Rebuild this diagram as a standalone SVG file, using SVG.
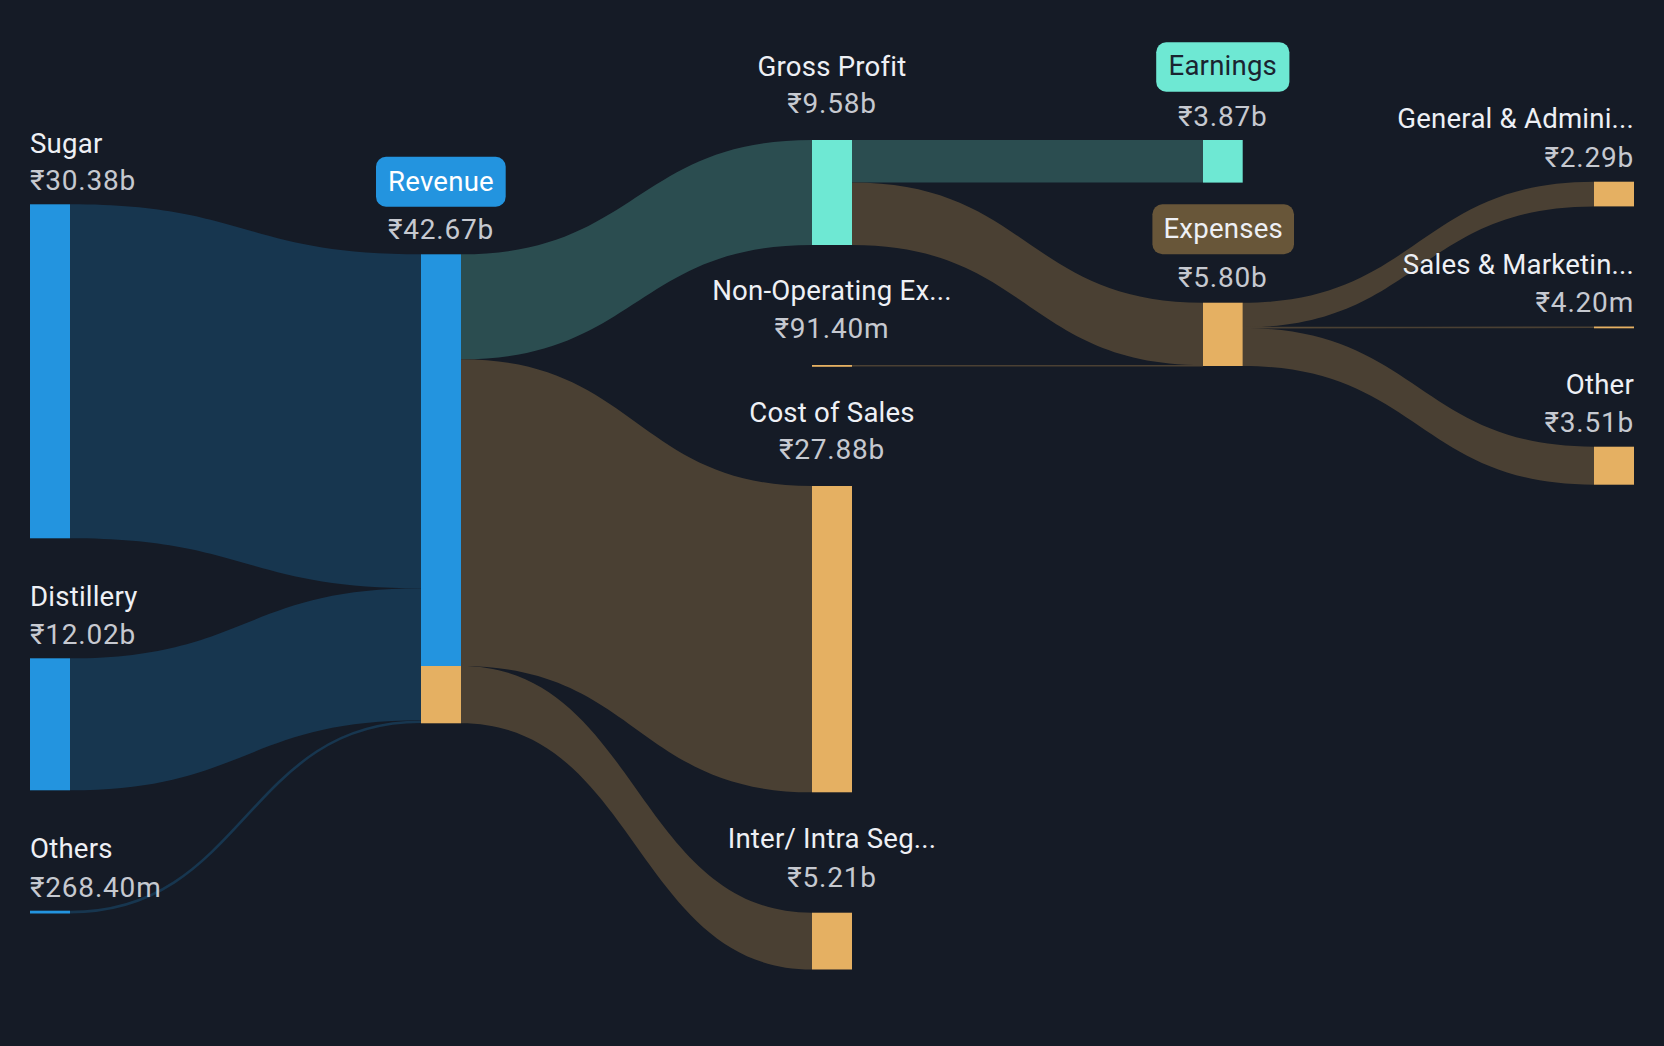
<svg xmlns="http://www.w3.org/2000/svg" width="1664" height="1046" viewBox="0 0 1664 1046">
<style>
.bg{fill:#151b26}
.t{font-family:Roboto,"Liberation Sans",sans-serif;font-size:27.6px;letter-spacing:0.2px;fill:#eef0f5}
.v{font-family:Roboto,"Liberation Sans",sans-serif;font-size:28px;letter-spacing:0.8px;fill:#c6c9d0}
.m{text-anchor:middle}
.e{text-anchor:end}
.blue{fill:#2394df}
.teal{fill:#6ee8d3}
.org{fill:#e5b062}
.lb{fill:#17364f}
.lt{fill:#2b4d50}
.lo{fill:#4a4033}
</style>
<rect class="bg" x="0" y="0" width="1664" height="1046"/>
<g id="links">
<path class="lb" d="M70,204.3 C245.5,204.3 245.5,254.3 421,254.3 L421,588.3 C245.5,588.3 245.5,538.3 70,538.3 Z"/>
<path class="lb" d="M70,658.3 C245.5,658.3 245.5,588.3 421,588.3 L421,720.3 C245.5,720.3 245.5,790.3 70,790.3 Z"/>
<path d="M70,912.1 C245.5,912.1 245.5,721.8 421,721.8" fill="none" stroke="#17364f" stroke-width="2.6"/>
<path class="lt" d="M461,254.3 C636.5,254.3 636.5,140 812,140 L812,245 C636.5,245 636.5,359.3 461,359.3 Z"/>
<path class="lo" d="M461,359.3 C636.5,359.3 636.5,486 812,486 L812,792.3 C636.5,792.3 636.5,666 461,666 Z"/>
<path class="lo" d="M461,666 C636.5,666 636.5,912.7 812,912.7 L812,969.5 C636.5,969.5 636.5,723.3 461,723.3 Z"/>
<path class="lt" d="M852,140 L1203,140 L1203,182.6 L852,182.6 Z"/>
<path class="lo" d="M852,182.6 C1027.5,182.6 1027.5,302.7 1203,302.7 L1203,365 C1027.5,365 1027.5,245 852,245 Z"/>
<path d="M852,365.8 L1203,365.8" fill="none" stroke="#4a4033" stroke-width="1.6"/>
<path class="lo" d="M1242.7,302.7 C1418.35,302.7 1418.35,181.7 1594,181.7 L1594,206.4 C1418.35,206.4 1418.35,327.4 1242.7,327.4 Z"/>
<path d="M1242.7,327.7 C1418.35,327.7 1418.35,327.3 1594,327.3" fill="none" stroke="#4a4033" stroke-width="1.6"/>
<path class="lo" d="M1242.7,328 C1418.35,328 1418.35,446.7 1594,446.7 L1594,484.7 C1418.35,484.7 1418.35,366 1242.7,366 Z"/>
</g>
<g id="sugar">
<rect class="blue" x="30" y="204.3" width="40" height="334"/>
<text class="t" x="30" y="152.7">Sugar</text>
<text class="v" x="30" y="190">₹30.38b</text>
</g>
<g id="distillery">
<rect class="blue" x="30" y="658.3" width="40" height="132"/>
<text class="t" x="30" y="606">Distillery</text>
<text class="v" x="30" y="644">₹12.02b</text>
</g>
<g id="others">
<rect class="blue" x="30" y="910.7" width="40" height="2.8"/>
<text class="t" x="30" y="858.3">Others</text>
<text class="v" x="30" y="896.7">₹268.40m</text>
</g>
<g id="revenue">
<rect class="blue" x="421" y="254.3" width="40" height="411.7"/>
<rect class="org" x="421" y="666" width="40" height="57.3"/>
<rect class="blue" x="376" y="156.7" width="129.7" height="50" rx="10"/>
<text class="t m" x="441" y="191" style="fill:#ffffff">Revenue</text>
<text class="v m" x="441" y="239.3">₹42.67b</text>
</g>
<g id="gross-profit">
<rect class="teal" x="812" y="140" width="40" height="105"/>
<text class="t m" x="832" y="75.7">Gross Profit</text>
<text class="v m" x="832" y="113.3">₹9.58b</text>
</g>
<g id="non-operating">
<rect class="org" x="812" y="365" width="40" height="1.8"/>
<text class="t m" x="832" y="300">Non-Operating Ex...</text>
<text class="v m" x="832" y="338.3">₹91.40m</text>
</g>
<g id="cost-of-sales">
<rect class="org" x="812" y="486" width="40" height="306.3"/>
<text class="t m" x="832" y="421.7">Cost of Sales</text>
<text class="v m" x="832" y="459.3">₹27.88b</text>
</g>
<g id="inter-intra">
<rect class="org" x="812" y="912.7" width="40" height="56.8"/>
<text class="t m" x="832" y="848.3">Inter/ Intra Seg...</text>
<text class="v m" x="832" y="886.7">₹5.21b</text>
</g>
<g id="earnings">
<rect class="teal" x="1203" y="140" width="39.7" height="42.6"/>
<rect class="teal" x="1156.2" y="42.3" width="133.2" height="49.4" rx="10"/>
<text class="t m" x="1222.8" y="75" style="fill:#1a2330">Earnings</text>
<text class="v m" x="1222.8" y="126">₹3.87b</text>
</g>
<g id="expenses">
<rect class="org" x="1203" y="302.7" width="39.7" height="63.3"/>
<rect x="1152.4" y="204.3" width="141.6" height="50" rx="10" fill="#685639"/>
<text class="t m" x="1223.2" y="238.3">Expenses</text>
<text class="v m" x="1222.8" y="287.3">₹5.80b</text>
</g>
<g id="general-admin">
<rect class="org" x="1594" y="181.7" width="40" height="24.7"/>
<text class="t e" x="1634" y="128.3">General &amp; Admini...</text>
<text class="v e" x="1634" y="167.3">₹2.29b</text>
</g>
<g id="sales-marketing">
<rect class="org" x="1594" y="326.5" width="40" height="1.8"/>
<text class="t e" x="1634" y="274">Sales &amp; Marketin...</text>
<text class="v e" x="1634" y="311.7">₹4.20m</text>
</g>
<g id="other">
<rect class="org" x="1594" y="446.7" width="40" height="38"/>
<text class="t e" x="1634" y="394">Other</text>
<text class="v e" x="1634" y="432.3">₹3.51b</text>
</g>
</svg>
